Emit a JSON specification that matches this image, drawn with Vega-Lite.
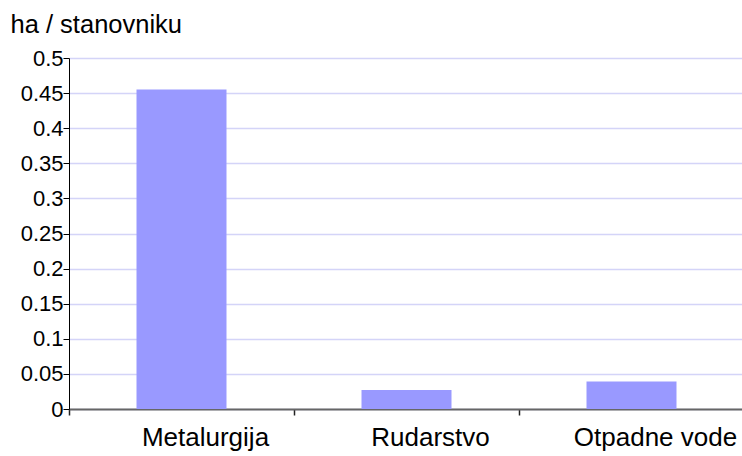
{
  "$schema": "https://vega.github.io/schema/vega-lite/v6.json",
  "autosize": "none",
  "width": 675,
  "height": 351,
  "padding": {"left": 69, "top": 58, "right": 0, "bottom": 47},
  "background": "white",
  "config": {
    "view": {"stroke": null},
    "font": "Liberation Sans"
  },
  "data": {
    "values": [
      {"sektor": "Metalurgija", "vrijednost": 0.455},
      {"sektor": "Rudarstvo", "vrijednost": 0.027},
      {"sektor": "Otpadne vode", "vrijednost": 0.039}
    ]
  },
  "mark": {"type": "bar", "color": "#9999ff"},
  "encoding": {
    "x": {
      "field": "sektor",
      "type": "nominal",
      "sort": null,
      "scale": {"paddingInner": 0.6, "paddingOuter": 0.3},
      "axis": {
        "title": null,
        "labelAngle": 0,
        "labelFont": "Liberation Sans",
        "labelFontSize": 26,
        "labelColor": "#000000",
        "labelPadding": 9,
        "bandPosition": -0.75,
        "labelOffset": 24,
        "ticks": true,
        "tickSize": 6,
        "tickWidth": 1.5,
        "tickColor": "#222222",
        "domainColor": "#666666",
        "domainWidth": 2
      }
    },
    "y": {
      "field": "vrijednost",
      "type": "quantitative",
      "scale": {"domain": [0, 0.5], "nice": false},
      "axis": {
        "title": "ha / stanovniku",
        "titleAngle": 0,
        "titleAlign": "left",
        "titleBaseline": "alphabetic",
        "titleX": -59,
        "titleY": -26,
        "titleFont": "Liberation Sans",
        "titleFontSize": 25.5,
        "titleFontWeight": "normal",
        "titleColor": "#000000",
        "values": [0, 0.05, 0.1, 0.15, 0.2, 0.25, 0.3, 0.35, 0.4, 0.45, 0.5],
        "format": "~g",
        "labelFont": "Liberation Sans",
        "labelFontSize": 22,
        "labelColor": "#000000",
        "labelPadding": 0,
        "tickSize": 6,
        "tickColor": "#000000",
        "domainColor": "#000000",
        "domainWidth": 1,
        "grid": true,
        "gridColor": "#d4d4f8",
        "gridWidth": 1.5
      }
    }
  }
}
